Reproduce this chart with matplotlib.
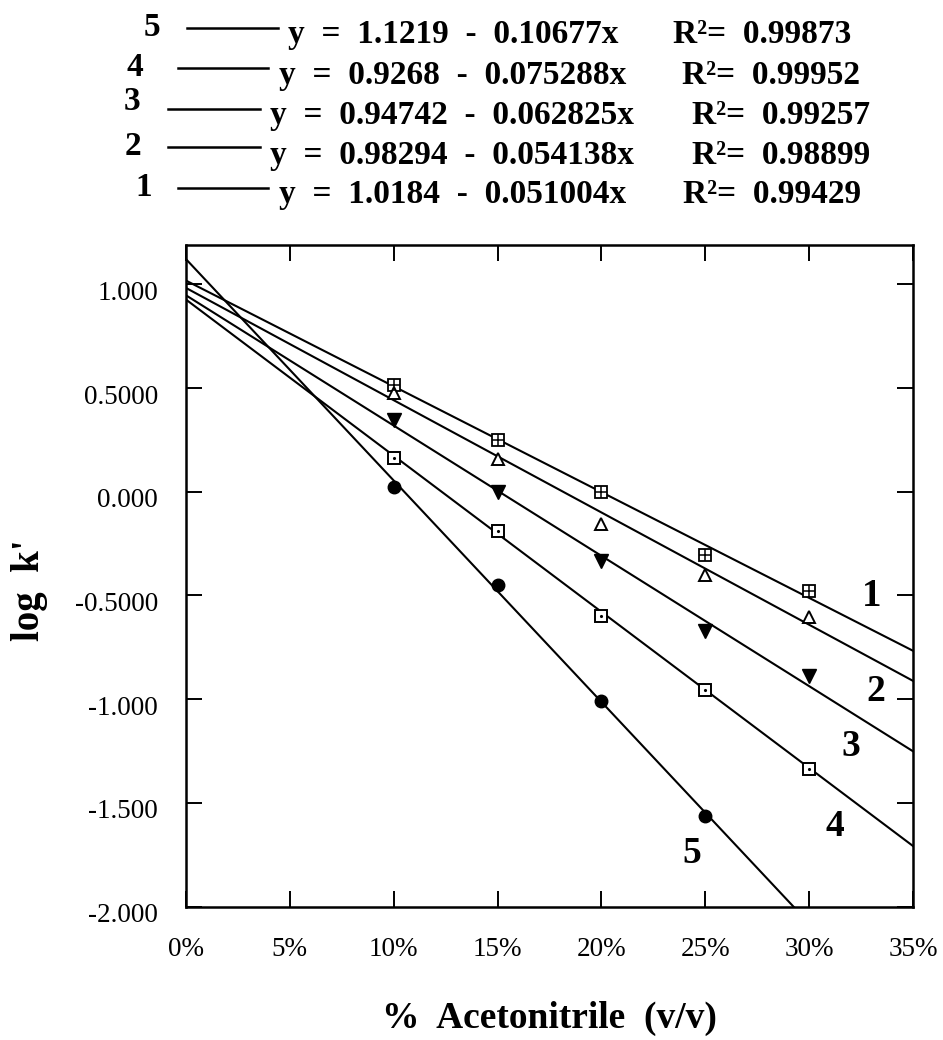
import numpy as np
import matplotlib
matplotlib.use('Agg')
import matplotlib.pyplot as plt
from matplotlib.lines import Line2D
from matplotlib.transforms import ScaledTranslation

plt.rcParams['font.family'] = ['Liberation Serif', 'DejaVu Serif']

pct = [10, 15, 20, 25, 30]
logk_1 = [0.516, 0.249, 0.000, -0.304, -0.480]
logk_2 = [0.476, 0.156, -0.154, -0.401, -0.606]
logk_3 = [0.346, 0.000, -0.332, -0.671, -0.889]
logk_4 = [0.164, -0.188, -0.598, -0.956, -1.337]
logk_5 = [0.023, -0.448, -1.010, -1.565]

# regression results printed above the plot (series 1..5)
series = ['1', '2', '3', '4', '5']
intercepts = ['1.0184', '0.98294', '0.94742', '0.9268', '1.1219']
slopes = ['0.051004', '0.054138', '0.062825', '0.075288', '0.10677']
r_squared = ['0.99429', '0.98899', '0.99257', '0.99952', '0.99873']

x_ticks = [0, 5, 10, 15, 20, 25, 30, 35]
y_ticks = [1.0, 0.5, 0.0, -0.5, -1.0, -1.5, -2.0]
y_tick_labels = ['1.000', '0.5000', '0.000', '-0.5000', '-1.000', '-1.500', '-2.000']

W, H = 943, 1040
fig = plt.figure(figsize=(W / 100, H / 100), dpi=100)


def fx(px):
    return px / W


def fy(py):
    return 1 - py / H


ax = fig.add_axes([fx(186), fy(906.5), (913 - 186) / W, (906.5 - 245) / H])

# fitted lines
x_fit = np.array([0, 35])
for b, m in zip(intercepts, slopes):
    ax.plot(x_fit, float(b) - float(m) * x_fit, color='k', lw=1.5, zorder=2)

# data points
ax.plot(pct, logk_1, ls='none', marker='s', ms=8.5, mfc='white', mec='k', mew=1.3, zorder=3)
ax.plot(pct, logk_1, ls='none', marker='+', ms=8.5, mec='k', mew=1.1, zorder=4)
ax.plot(pct, logk_2, ls='none', marker='^', ms=8, mfc='white', mec='k', mew=1.4, zorder=3)
ax.plot(pct, logk_3, ls='none', marker='v', ms=9.5, color='k', zorder=3)
ax.plot(pct, logk_4, ls='none', marker='s', ms=8.5, mfc='white', mec='k', mew=1.4, zorder=3)
ax.plot(pct, logk_4, ls='none', marker='.', ms=2.5, color='k', zorder=4)
ax.plot(pct[:len(logk_5)], logk_5, ls='none', marker='o', ms=9, color='k', zorder=3)

# curve numbers inside the plot
curve_label_pos = [(33.0, -0.507, 28), (33.2, -0.965, 27), (32.0, -1.23, 27),
                   (31.25, -1.616, 27), (24.35, -1.744, 27)]
for s, (lx, ly, fs) in zip(series, curve_label_pos):
    ax.text(lx, ly, s, fontsize=fs, fontweight='bold', ha='center', va='center')

ax.set_xlim(0, 35)
ax.set_ylim(-2, 1.19)
ax.set_xticks(x_ticks, labels=[f'{v}%' for v in x_ticks])
ax.set_yticks(y_ticks, labels=y_tick_labels)
ax.tick_params(which='both', direction='in', length=11.5, width=1.4, top=True, right=True)
ax.tick_params(axis='x', pad=22, labelsize=19.5)
ax.tick_params(axis='y', pad=20, labelsize=19.5)
offset = ScaledTranslation(0, -6 / 100, fig.dpi_scale_trans)
for lbl in ax.get_yticklabels():
    lbl.set_transform(lbl.get_transform() + offset)
for sp in ax.spines.values():
    sp.set_linewidth(1.8)

ax.set_xlabel('%  Acetonitrile  (v/v)', fontsize=27, fontweight='bold', va='baseline')
ax.xaxis.set_label_coords(0.5, (906.5 - 1028) / (906.5 - 245))
ax.set_ylabel("log  k'", fontsize=28, fontweight='bold', va='center')
ax.yaxis.set_label_coords((30 - 186) / (913 - 186), 1 - (590 - 245) / (906.5 - 245))

# header: regression equations, listed 5 -> 1
# (number x, number y, dash x0, dash x1, dash y, eq x, baseline, R2 x) in pixels
header_layout = {
    '5': (151.7, 28, 186.7, 278.3, 28.3, 288, 43, 673),
    '4': (135, 67, 178, 268, 68, 279, 84, 681.7),
    '3': (131.7, 102, 168, 260, 109, 270, 124, 691.7),
    '2': (133.3, 147, 168, 260, 147, 270, 164, 691.7),
    '1': (143.3, 188, 178, 268, 188, 279, 203, 683.3),
}
hfs = 24
for s, b, m, r2 in zip(series, intercepts, slopes, r_squared):
    nx, ny, d0, d1, dy, ex, bl, rx = header_layout[s]
    fig.text(fx(nx), fy(ny), s, fontsize=hfs, fontweight='bold', ha='center', va='center')
    fig.add_artist(Line2D([fx(d0), fx(d1)], [fy(dy), fy(dy)], color='k', lw=1.8,
                          transform=fig.transFigure))
    fig.text(fx(ex), fy(bl), f'y  =  {b}  -  {m}x', fontsize=hfs, fontweight='bold',
             ha='left', va='baseline')
    fig.text(fx(rx), fy(bl), f'R²=  {r2}', fontsize=hfs, fontweight='bold',
             ha='left', va='baseline')

fig.savefig('out.png', dpi=100, facecolor='white')
